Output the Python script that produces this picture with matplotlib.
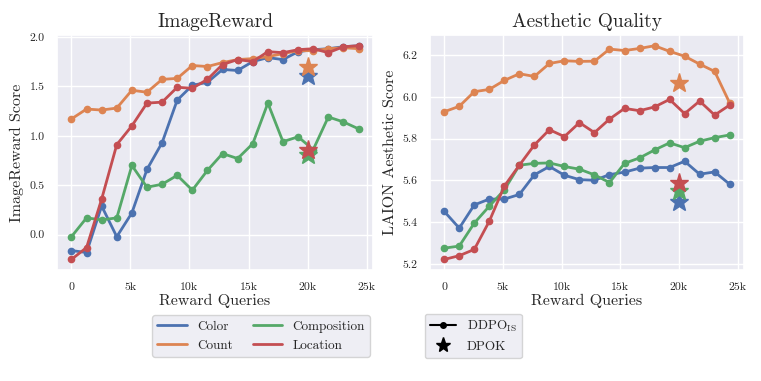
import matplotlib
matplotlib.use("Agg")
import matplotlib.pyplot as plt
from matplotlib.lines import Line2D
import numpy as np
import seaborn as sns

sns.set_theme(style="darkgrid")
plt.rcParams["font.family"] = "serif"
plt.rcParams["font.serif"] = ["cmr10"]
plt.rcParams["mathtext.fontset"] = "cm"
plt.rcParams["axes.formatter.use_mathtext"] = True

# reward queries (20 evaluation points) and DPOK position
queries = np.arange(20) * 1280
dpok_query = 20000

tasks = ["Color", "Count", "Composition", "Location"]
colors = ["#4C72B0", "#DD8452", "#55A868", "#C44E52"]

ir_color = [-0.16, -0.18, 0.29, -0.02, 0.22, 0.66, 0.93, 1.36, 1.51, 1.54,
            1.67, 1.66, 1.75, 1.79, 1.77, 1.85, 1.87, 1.88, 1.90, 1.91]
ir_count = [1.17, 1.27, 1.26, 1.28, 1.46, 1.44, 1.57, 1.58, 1.71, 1.70,
            1.74, 1.77, 1.78, 1.80, 1.83, 1.86, 1.86, 1.88, 1.89, 1.88]
ir_comp = [-0.02, 0.17, 0.15, 0.17, 0.70, 0.48, 0.51, 0.60, 0.45, 0.65,
           0.82, 0.77, 0.92, 1.33, 0.94, 0.99, 0.86, 1.19, 1.14, 1.07]
ir_loc = [-0.25, -0.13, 0.36, 0.91, 1.10, 1.33, 1.34, 1.49, 1.48, 1.57,
          1.72, 1.77, 1.75, 1.85, 1.84, 1.87, 1.88, 1.84, 1.90, 1.91]
ir_dpok = [1.60, 1.70, 0.81, 0.86]

aq_color = [5.452, 5.372, 5.483, 5.511, 5.511, 5.533, 5.627, 5.667, 5.625, 5.604,
            5.601, 5.628, 5.640, 5.659, 5.662, 5.662, 5.692, 5.630, 5.641, 5.582]
aq_count = [5.929, 5.955, 6.025, 6.036, 6.079, 6.111, 6.098, 6.160, 6.173, 6.170,
            6.171, 6.229, 6.222, 6.232, 6.245, 6.218, 6.195, 6.157, 6.122, 5.971]
aq_comp = [5.276, 5.286, 5.396, 5.477, 5.555, 5.673, 5.682, 5.684, 5.667, 5.654,
           5.627, 5.590, 5.682, 5.708, 5.746, 5.780, 5.757, 5.788, 5.805, 5.818]
aq_loc = [5.222, 5.240, 5.270, 5.405, 5.573, 5.673, 5.770, 5.843, 5.810, 5.877,
          5.829, 5.894, 5.945, 5.934, 5.952, 5.988, 5.920, 5.980, 5.913, 5.961]
aq_dpok = [5.495, 6.066, 5.549, 5.587]

xticks = [0, 5000, 10000, 15000, 20000, 25000]
xtick_labels = ["0", "5k", "10k", "15k", "20k", "25k"]

fig = plt.figure(figsize=(7.61, 3.81), dpi=100)
ax1 = fig.add_axes([0.075, 0.291, 0.415, 0.617])
ax2 = fig.add_axes([0.565, 0.291, 0.4126, 0.617])

panels = [
    (ax1, [ir_color, ir_count, ir_comp, ir_loc], ir_dpok, "ImageReward", "ImageReward Score"),
    (ax2, [aq_color, aq_count, aq_comp, aq_loc], aq_dpok, "Aesthetic Quality", "LAION Aesthetic Score"),
]

for ax, series, dpok, title, ylabel in panels:
    for vals, c in zip(series, colors):
        ax.plot(queries, vals, color=c, marker="o", markersize=4.5, linewidth=2)
    for v, c in zip(dpok, colors):
        ax.plot([dpok_query], [v], marker="*", color=c, markersize=14, linestyle="none", zorder=4)
    ax.set_title(title, fontsize=14)
    ax.set_xlabel("Reward Queries", fontsize=11.5, labelpad=1)
    ax.set_ylabel(ylabel, fontsize=11.5)
    ax.set_xticks(xticks)
    ax.set_xticklabels(xtick_labels)
    ax.tick_params(labelsize=8.5, pad=3)

ax1.set_yticks([0.0, 0.5, 1.0, 1.5, 2.0])
ax1.set_yticklabels(["0.0", "0.5", "1.0", "1.5", "2.0"])
ax2.set_yticks([5.2, 5.4, 5.6, 5.8, 6.0, 6.2])
ax2.set_yticklabels(["5.2", "5.4", "5.6", "5.8", "6.0", "6.2"])

task_handles = [Line2D([], [], color=c, linewidth=2) for c in colors]
fig.legend(task_handles, tasks, ncol=2, loc="center", bbox_to_anchor=(0.343, 0.118),
           fontsize=9.5, frameon=True, handlelength=2.2, columnspacing=1.5)

method_handles = [
    Line2D([], [], color="black", marker="o", markersize=4, linewidth=1.5),
    Line2D([], [], color="black", marker="*", markersize=11, linestyle="none"),
]
fig.legend(method_handles, [r"DDPO$_{\mathrm{IS}}$", "DPOK"], loc="center",
           bbox_to_anchor=(0.622, 0.118), fontsize=9.5, frameon=True)

fig.savefig("out.png", dpi=100)
